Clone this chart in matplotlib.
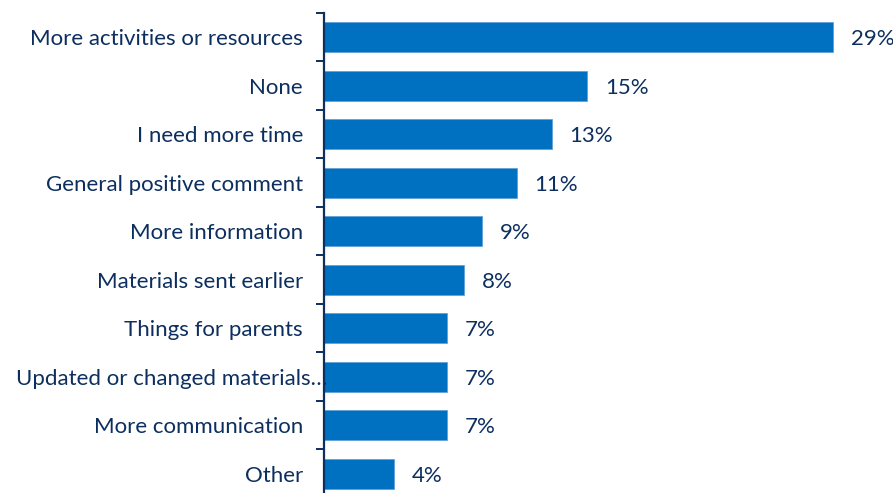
import numpy as np
import matplotlib.pyplot as plt
from matplotlib.transforms import offset_copy

categories = ["More activities or resources", "None", "I need more time",
              "General positive comment", "More information",
              "Materials sent earlier", "Things for parents",
              "Updated or changed materials\u2026", "More communication", "Other"]
values = [29, 15, 13, 11, 9, 8, 7, 7, 7, 4]
value_labels = ["29%", "15%", "13%", "11%", "9%", "8%", "7%", "7%", "7%", "4%"]

bar_color = "#0070c0"
text_color = "#0c2f5f"
plt.rcParams['font.family'] = ['Lato', 'DejaVu Sans']

fig = plt.figure(figsize=(8.93, 4.93), dpi=100)
ax = fig.add_axes([324/893, -5/493, 1 - 324/893, 1 - 13/493 + 5/493])

y = np.arange(len(categories))
ax.barh(y, values, height=0.62, color=bar_color, edgecolor="#5b9bd5", linewidth=0.5)
ax.set_xlim(0, 32.4)
ax.set_ylim(len(categories) - 0.5, -0.5)

for s in ["top", "right", "bottom"]:
    ax.spines[s].set_visible(False)
ax.spines["left"].set_color(text_color)
ax.spines["left"].set_linewidth(1.6)
ax.set_xticks([])
ax.set_yticks(np.arange(-0.5, len(categories), 1))
ax.set_yticklabels([])
ax.tick_params(axis="y", direction="out", length=6, width=1.4, color=text_color)

# category names, right-aligned left of the axis; the long one runs into it
for i, name in enumerate(categories):
    dx = 3 if name.endswith("\u2026") else -21
    tr = offset_copy(ax.get_yaxis_transform(), fig=fig, x=dx * 0.72, y=-1.5, units="points")
    ax.text(0, i, name, transform=tr, ha="right", va="center",
            fontsize=16, color=text_color)

for i, (v, lab) in enumerate(zip(values, value_labels)):
    ax.annotate(lab, (v, i), xytext=(12.5, -1.5), textcoords="offset points",
                ha="left", va="center", fontsize=16, color=text_color)

fig.savefig("out.png", dpi=100)
